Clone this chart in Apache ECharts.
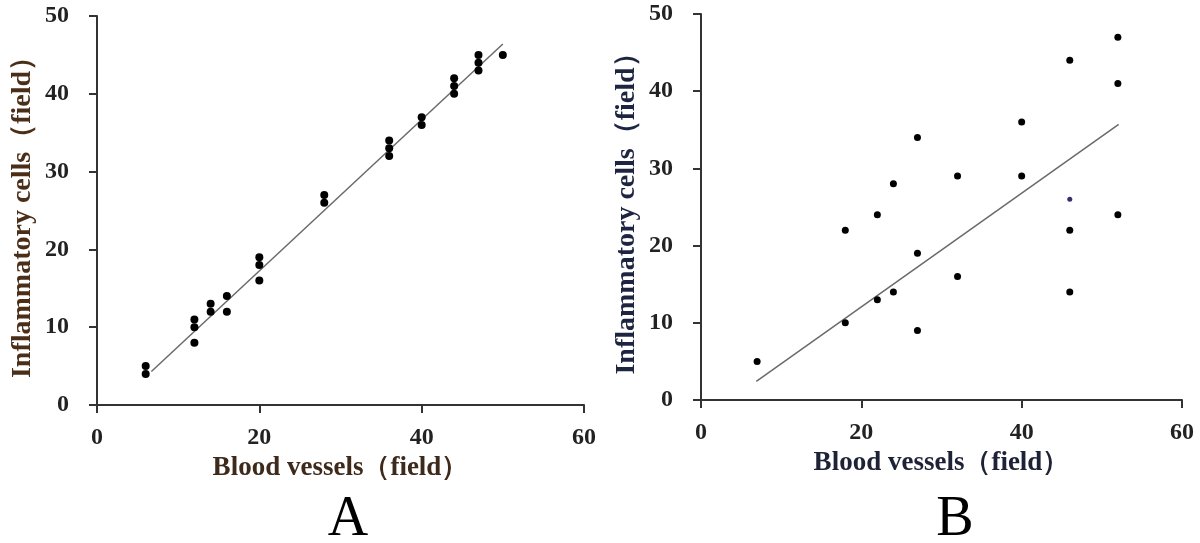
<!DOCTYPE html>
<html>
<head>
<meta charset="utf-8">
<script src="https://cdn.jsdelivr.net/npm/echarts@6/dist/echarts.min.js"></script>
<style>
html,body{margin:0;padding:0;background:#fff;}
#c{width:1200px;height:543px;}
</style>
</head>
<body>
<div id="c"></div>
<script>
// Panel A data: [blood vessels, inflammatory cells]
var pointsA = [
  [6,5],[6,4],[12,11],[12,10],[12,8],[14,13],[14,12],[16,14],[16,12],
  [20,19],[20,18],[20,16],[28,27],[28,26],[36,34],[36,33],[36,32],
  [40,37],[40,36],[44,42],[44,41],[44,40],[47,45],[47,44],[47,43],[50,45]
];
var fitA = [[6.7,4.3],[50,46.4]];

// Panel B data
var pointsB = [
  [7,5],[18,22],[18,10],[22,24],[22,13],[24,28],[24,14],[27,34],[27,19],[27,9],
  [32,29],[32,16],[40,36],[40,29],[46,44],[46,22],[46,14],[52,47],[52,41],[52,24]
];
var highlightB = [[46,26]];
var fitB = [[6.9,2.4],[52.1,35.7]];

var xTicks = [0,20,40,60];
var yTicks = [0,10,20,30,40,50];

var xTitle = 'Blood vessels（field）';
var yTitle = 'Inflammatory cells（field）';
var panelLabels = ['A','B'];

var FONT = '"Liberation Serif", "Times New Roman", serif';

function xAxis(idx){
  return {
    gridIndex: idx, type: 'value', min: xTicks[0], max: xTicks[xTicks.length-1], interval: 20,
    name: xTitle, nameLocation: 'middle', nameGap: 49,
    nameTextStyle: {fontFamily: FONT, fontWeight: 'bold', fontSize: 27, color: idx===0 ? '#3d2a1a' : '#1e2236'},
    axisLine: {show: true, onZero: false, lineStyle: {color: '#333', width: 2}},
    axisTick: {show: true, inside: false, length: 8, lineStyle: {color: '#333', width: 2}},
    axisLabel: {fontFamily: FONT, fontWeight: 'bold', fontSize: 24, color: '#222', margin: 21},
    splitLine: {show: false}
  };
}
function yAxis(idx){
  return {
    gridIndex: idx, type: 'value', min: yTicks[0], max: yTicks[yTicks.length-1], interval: 10,
    name: yTitle, nameLocation: 'middle', nameGap: 60, nameRotate: 90,
    nameTextStyle: {fontFamily: FONT, fontWeight: 'bold', fontSize: 28, color: idx===0 ? '#4a2e18' : '#1e2540'},
    axisLine: {show: true, onZero: false, lineStyle: {color: '#333', width: 2}},
    axisTick: {show: true, inside: false, length: 8, lineStyle: {color: '#333', width: 2}},
    axisLabel: {fontFamily: FONT, fontWeight: 'bold', fontSize: 24, color: '#222', margin: 28},
    splitLine: {show: false}
  };
}

var chart = echarts.init(document.getElementById('c'), null, {renderer: 'canvas'});
chart.setOption({
  animation: false,
  backgroundColor: '#fff',
  title: [
    {text: panelLabels[0], left: 343, top: 487, textAlign: 'center',
     textStyle: {fontFamily: FONT, fontWeight: 'normal', fontSize: 56, color: '#000'}},
    {text: panelLabels[1], left: 950, top: 487, textAlign: 'center',
     textStyle: {fontFamily: FONT, fontWeight: 'normal', fontSize: 56, color: '#000'}}
  ],
  grid: [
    {left: 97, top: 16, width: 487, height: 389},
    {left: 701, top: 14, width: 481, height: 386}
  ],
  xAxis: [xAxis(0), xAxis(1)],
  yAxis: [yAxis(0), yAxis(1)],
  series: [
    {type: 'line', xAxisIndex: 0, yAxisIndex: 0, data: fitA, symbol: 'none',
     lineStyle: {color: '#6a6a6a', width: 1.5}, z: 1},
    {type: 'scatter', xAxisIndex: 0, yAxisIndex: 0, data: pointsA, symbolSize: 8,
     itemStyle: {color: '#000', opacity: 1}, z: 2},
    {type: 'line', xAxisIndex: 1, yAxisIndex: 1, data: fitB, symbol: 'none',
     lineStyle: {color: '#6a6a6a', width: 1.5}, z: 1},
    {type: 'scatter', xAxisIndex: 1, yAxisIndex: 1, data: pointsB, symbolSize: 7,
     itemStyle: {color: '#000', opacity: 1}, z: 2},
    {type: 'scatter', xAxisIndex: 1, yAxisIndex: 1, data: highlightB, symbolSize: 5,
     itemStyle: {color: '#3b2c70', opacity: 1}, z: 2}
  ]
});
</script>
</body>
</html>
